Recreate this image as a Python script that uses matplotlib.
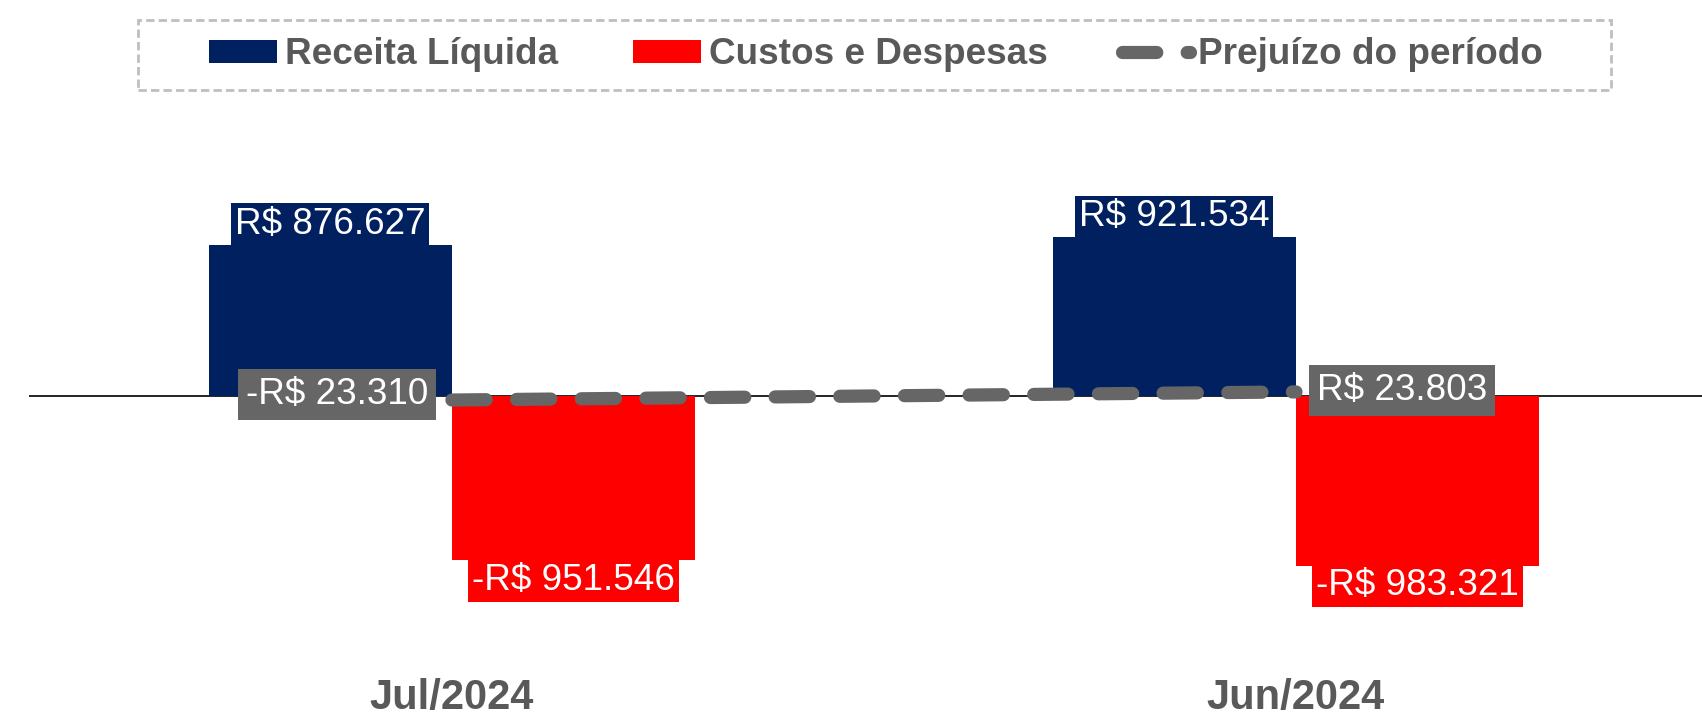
import matplotlib
matplotlib.use("Agg")
import matplotlib.pyplot as plt
from matplotlib.patches import Patch, Rectangle
from matplotlib.lines import Line2D

plt.rcParams['font.family'] = ['Liberation Sans', 'DejaVu Sans']

# Data
periods = ["Jul/2024", "Jun/2024"]
receita = [876627, 921534]
custos = [-951546, -983321]
prejuizo = [-23310, 23803]

series_names = ["Receita Líquida", "Custos e Despesas", "Prejuízo do período"]

BLUE = '#002060'
RED = '#FF0000'
GRAY = '#666666'
TXT = '#595959'


def fmt(v):
    s = f"{abs(v):,}".replace(",", ".")
    return ("-R$ " if v < 0 else "R$ ") + s


W, H = 1702, 719
fig = plt.figure(figsize=(W / 100, H / 100), dpi=100)
ax = fig.add_axes([29 / W, 1 - 620 / H, (W - 29) / W, 490 / H])

x = list(range(len(periods)))
bw = 0.288
k = 5800  # value per pixel

ax.axhline(0, color='black', lw=1.2, zorder=1)
ax.bar([xi - bw / 2 for xi in x], receita, width=bw, color=BLUE, zorder=2)
ax.bar([xi + bw / 2 for xi in x], custos, width=bw, color=RED, zorder=2)
ax.plot(x, prejuizo, color=GRAY, lw=9.5, dashes=(2.6, 2.3),
        dash_capstyle='round', solid_capstyle='round', zorder=3)

lab_kw = dict(color='white', fontsize=26.6, ha='center', textcoords='offset points', zorder=5)
for xi, v in zip(x, receita):
    ax.annotate(fmt(v), (xi - bw / 2, v), xytext=(0, 2), va='bottom',
                bbox=dict(boxstyle='square,pad=0.1', fc=BLUE, ec='none'), **lab_kw)
for xi, v in zip(x, custos):
    ax.annotate(fmt(v), (xi + bw / 2, v), xytext=(0, -2), va='top',
                bbox=dict(boxstyle='square,pad=0.1', fc=RED, ec='none'), **lab_kw)

# line labels: first to the left, second to the right
offsets = [(-17, 4, 'right'), (15, 1, 'left')]
for xi, v, (dx, dy, ha) in zip(x, prejuizo, offsets):
    ax.annotate(fmt(v), (xi, v), xytext=(dx, dy), textcoords='offset points',
                ha=ha, va='center', color='white', fontsize=26.6, zorder=6,
                bbox=dict(boxstyle='square,pad=0.22', fc=GRAY, ec='none'))

ax.set_xlim(-0.501, 1.481)
ax.set_ylim(-224 * k, 266 * k)
ax.set_xticks(x)
ax.set_xticklabels(periods, fontsize=30, fontweight='bold', color=TXT)
ax.tick_params(axis='x', length=0, pad=42)
ax.set_yticks([])
for s in ax.spines.values():
    s.set_visible(False)

# legend
handles = [Patch(facecolor=BLUE), Patch(facecolor=RED),
           Line2D([0], [0], color=GRAY, lw=9.5, dashes=(2.6, 2.3), dash_capstyle='round')]
fig.legend(handles, series_names, loc='center', bbox_to_anchor=(876 / W, 1 - 55 / H),
           ncol=3, frameon=False, prop=dict(weight='bold', size=26.6), labelcolor=TXT,
           handlelength=1.85, handleheight=0.57, handletextpad=0.22, columnspacing=2.0)
fig.patches.append(Rectangle((138 / W, 1 - 90 / H), (1611 - 138) / W, 70 / H,
                             transform=fig.transFigure, fill=False, ec='#BFBFBF',
                             lw=2, ls=(0, (3, 1.5))))

fig.savefig('out.png', dpi=100)
